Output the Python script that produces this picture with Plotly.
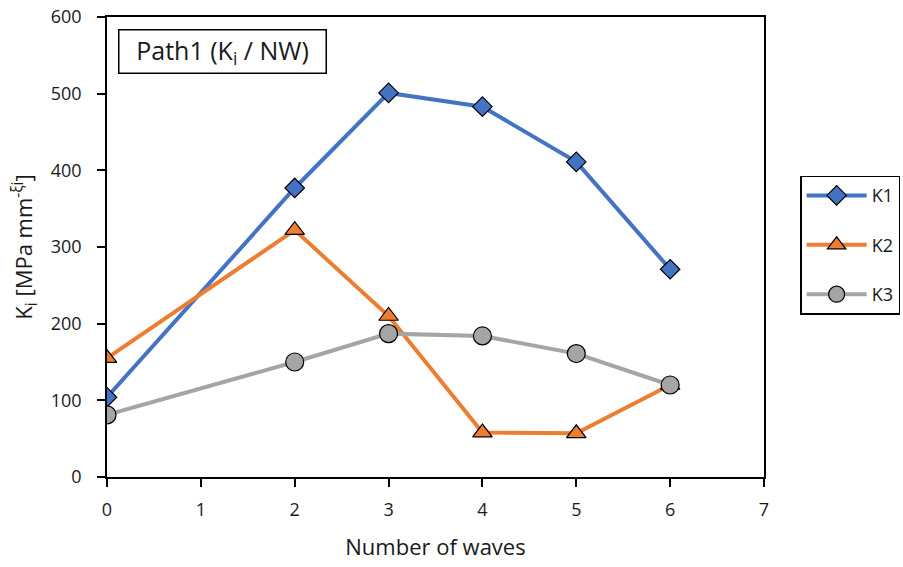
import plotly.graph_objects as go

waves = [0, 2, 3, 4, 5, 6]
k1 = [104, 377, 501, 483, 411, 271]
k2 = [155, 322, 210, 58, 57, 120]
k3 = [81, 150, 187, 184, 161, 120]
x_ticks = [0, 1, 2, 3, 4, 5, 6, 7]
y_ticks = [0, 100, 200, 300, 400, 500, 600]

FONT = "Open Sans"
TXT = "#1a1a1a"

fig = go.Figure()
series = [
    ("K1", k1, "#4472C4", "diamond", 15),
    ("K2", k2, "#ED7D31", "triangle-up", 17),
    ("K3", k3, "#A5A5A5", "circle", 18),
]
for name, vals, col, sym, sz in series:
    fig.add_trace(go.Scatter(
        x=waves, y=vals, name=name, mode="lines+markers",
        legendgroup=name,
        line=dict(color=col, width=4),
        marker=dict(symbol=sym, size=sz, color=col,
                    line=dict(color="black", width=1.2)),
    ))

axis_common = dict(
    showgrid=False, zeroline=False, showline=True, linecolor="black",
    linewidth=1.5, mirror=True, ticks="outside", ticklen=8,
    tickcolor="black", tickwidth=1.5, automargin=False,
    tickfont=dict(family=FONT, size=18, color=TXT),
)

fig.update_layout(
    width=903, height=567,
    margin=dict(l=107, r=139, t=17, b=90, autoexpand=False),
    paper_bgcolor="white", plot_bgcolor="white",
    font=dict(family=FONT, color=TXT),
    xaxis=dict(range=[0, 7], tickvals=x_ticks, ticklabelstandoff=8,
               title=dict(text="Number of waves", font=dict(size=22, family=FONT),
                          standoff=19),
               **axis_common),
    yaxis=dict(range=[0, 600], tickvals=y_ticks, ticklabelstandoff=12,
               title=dict(text="K<sub>i</sub> [MPa mm<sup>-ξi</sup>]",
                          font=dict(size=22, family=FONT), standoff=12),
               **axis_common),
    legend=dict(x=1.055, y=0.655, xanchor="left", yanchor="top",
                bordercolor="black", borderwidth=1.5,
                font=dict(family=FONT, size=18, color=TXT),
                tracegroupgap=23, itemwidth=60),
    showlegend=True,
)

fig.add_annotation(
    xref="paper", yref="paper", x=0.0168, y=0.974, xanchor="left", yanchor="top",
    text="Path1 (K<sub>i</sub> / NW)", showarrow=False,
    font=dict(family=FONT, size=25, color=TXT),
    width=200, height=36, borderpad=3,
    bordercolor="black", borderwidth=1.5, bgcolor="white",
)

fig.write_html("out.html")
